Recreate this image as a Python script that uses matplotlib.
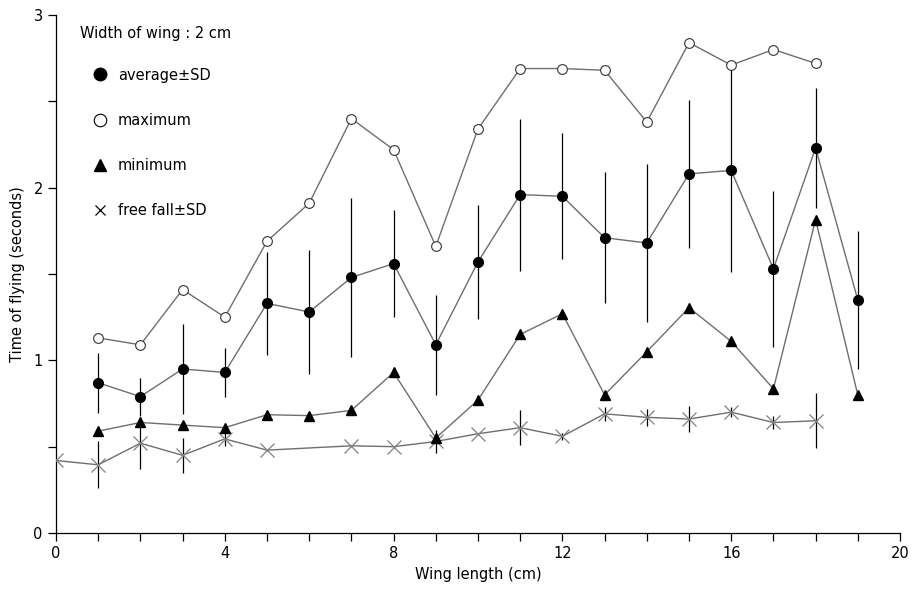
import numpy as np
import matplotlib.pyplot as plt
from matplotlib.lines import Line2D

# wing length (cm)
wing = np.arange(0, 20)

# average +- SD (x = 1..19)
avg_x = np.arange(1, 20)
avg = [0.87, 0.79, 0.95, 0.93, 1.33, 1.28, 1.48, 1.56, 1.09, 1.57,
       1.96, 1.95, 1.71, 1.68, 2.08, 2.10, 1.53, 2.23, 1.35]
avg_sd = [0.175, 0.11, 0.26, 0.14, 0.30, 0.36, 0.46, 0.31, 0.29, 0.33,
          0.44, 0.365, 0.38, 0.46, 0.43, 0.59, 0.45, 0.35, 0.40]

# maximum (x = 1..18)
max_x = np.arange(1, 19)
maximum = [1.13, 1.09, 1.41, 1.25, 1.69, 1.91, 2.40, 2.22, 1.66, 2.34,
           2.69, 2.69, 2.68, 2.38, 2.84, 2.71, 2.80, 2.72]

# minimum (x = 1..19)
min_x = np.arange(1, 20)
minimum = [0.59, 0.64, 0.625, 0.61, 0.685, 0.68, 0.71, 0.93, 0.55, 0.77,
           1.15, 1.27, 0.80, 1.05, 1.305, 1.11, 0.835, 1.815, 0.80]

# free fall +- SD (no value at 6 cm)
ff_x = [0, 1, 2, 3, 4, 5, 7, 8, 9, 10, 11, 12, 13, 14, 15, 16, 17, 18]
ff = [0.42, 0.395, 0.52, 0.45, 0.545, 0.48, 0.505, 0.50, 0.53, 0.575,
      0.61, 0.56, 0.69, 0.67, 0.66, 0.70, 0.64, 0.65]
ff_sd = [0.0, 0.135, 0.15, 0.10, 0.04, 0.0, 0.0, 0.0, 0.065, 0.0,
         0.10, 0.02, 0.04, 0.05, 0.075, 0.03, 0.04, 0.16]

plt.rcParams['font.family'] = ['DejaVu Sans']
fig = plt.figure(figsize=(9.15, 5.96), dpi=100)
ax = fig.add_axes([0.0612, 0.1057, 0.9224, 0.8691])

line_col = '#6e6e6e'

ax.errorbar(ff_x, ff, yerr=ff_sd, fmt='none', ecolor='black', elinewidth=0.9, capsize=0, zorder=2)
ax.errorbar(avg_x, avg, yerr=avg_sd, fmt='none', ecolor='black', elinewidth=0.9, capsize=0, zorder=2)

ax.plot(ff_x, ff, color=line_col, lw=1.0, marker='x', ms=9.5, mew=0.9, mec='#808080', zorder=3)
ax.plot(min_x, minimum, color=line_col, lw=1.0, marker='^', ms=6.5, mfc='black', mec='black', zorder=4)
ax.plot(avg_x, avg, color=line_col, lw=1.0, marker='o', ms=7, mfc='black', mec='black', zorder=4)
ax.plot(max_x, maximum, color=line_col, lw=1.0, marker='o', ms=7, mfc='white', mec='#333333', mew=0.8, zorder=4)

ax.set_xlim(0, 20)
ax.set_ylim(0, 3)
ax.set_xticks(np.arange(0, 21, 4))
ax.set_xticks(np.arange(0, 21, 1), minor=True)
ax.set_yticks([0, 1, 2, 3])
ax.set_yticks(np.arange(0, 3.01, 0.5), minor=True)
ax.tick_params(which='both', direction='out', length=6, width=0.9, labelsize=10.5)
for s in ['top', 'right']:
    ax.spines[s].set_visible(False)
for s in ['left', 'bottom']:
    ax.spines[s].set_linewidth(0.9)

ax.set_xlabel('Wing length (cm)', fontsize=10.5, labelpad=4)
ax.set_ylabel('Time of flying (seconds)', fontsize=10.5, labelpad=6)

ax.text(0.0284, 0.965, 'Width of wing : 2 cm', transform=ax.transAxes,
        fontsize=10.5, ha='left', va='center')

handles = [
    Line2D([], [], ls='none', marker='o', ms=9, mfc='black', mec='black'),
    Line2D([], [], ls='none', marker='o', ms=9, mfc='white', mec='black', mew=0.8),
    Line2D([], [], ls='none', marker='^', ms=9, mfc='black', mec='black'),
    Line2D([], [], ls='none', marker='x', ms=7, mec='black', mew=0.9),
]
labels = ['average±SD', 'maximum', 'minimum', 'free fall±SD']
ax.legend(handles, labels, loc='upper left', bbox_to_anchor=(0.0433, 0.8985),
          frameon=False, fontsize=10.5, handlelength=1.0, handletextpad=0.73,
          labelspacing=2.07, borderpad=0, borderaxespad=0)

fig.savefig('out.png', dpi=100)
